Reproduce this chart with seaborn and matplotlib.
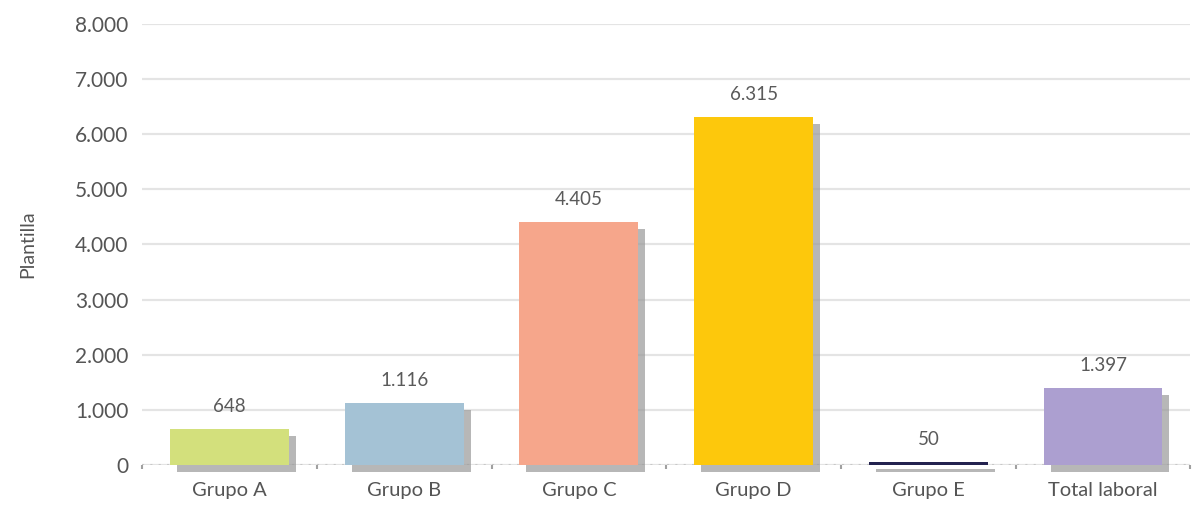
import matplotlib
matplotlib.use("Agg")
import matplotlib.pyplot as plt
import matplotlib.patheffects as pe
from matplotlib.ticker import FuncFormatter, FixedLocator
import seaborn as sns
import pandas as pd

categories = ["Grupo A", "Grupo B", "Grupo C", "Grupo D", "Grupo E", "Total laboral"]
plantilla = [648, 1116, 4405, 6315, 50, 1397]
bar_colors = ["#d3e07c", "#a4c2d5", "#f6a68b", "#fdc80c", "#23224f", "#ac9fd0"]
y_ticks = [0, 1000, 2000, 3000, 4000, 5000, 6000, 7000, 8000]

def fmt_es(v):
    return f"{int(v):,}".replace(",", ".")

sns.set_theme(style="white")
plt.rcParams["font.family"] = ["Lato", "DejaVu Sans"]

df = pd.DataFrame({"grupo": categories, "plantilla": plantilla})

fig = plt.figure(figsize=(11.94, 5.07), dpi=100)
ax = fig.add_axes([0.119, 0.083, 0.878, 0.870])

ax.set_yticks(y_ticks)
ax.yaxis.grid(True, color="#e4e4e4", linewidth=1.6, zorder=0)
ax.set_axisbelow(True)

sns.barplot(data=df, x="grupo", y="plantilla", hue="grupo", palette=bar_colors,
            saturation=1, legend=False, width=0.68, ax=ax, zorder=3)

shadow = [pe.SimplePatchShadow(offset=(5, -5), shadow_rgbFace="#999999", alpha=0.7),
          pe.Normal()]
for patch in ax.patches:
    patch.set_path_effects(shadow)
    patch.set_edgecolor("none")
    patch.set_clip_on(False)

for cont in ax.containers:
    ax.bar_label(cont, labels=[fmt_es(v) for v in cont.datavalues], padding=10,
                 fontsize=13.5, color="#5a5a5a")

ax.set_ylim(0, 8000)
ax.set_xlim(-0.5, len(categories) - 0.5)
ax.yaxis.set_major_formatter(FuncFormatter(lambda v, p: fmt_es(v)))

# dotted baseline with small separators between categories
ax.axhline(0, color="#c8c8c8", linestyle=(0, (1, 3)), linewidth=1.5, zorder=1)
ax.xaxis.set_minor_locator(FixedLocator([i - 0.5 for i in range(len(categories) + 1)]))
ax.tick_params(axis="x", which="minor", bottom=True, length=3, width=1.5, color="#a0a0a0",
               direction="out")
ax.tick_params(axis="x", which="major", bottom=False, labelsize=14.5, labelcolor="#555555", pad=6)
ax.tick_params(axis="y", left=False, labelsize=15, labelcolor="#555555", pad=4)

for s in ax.spines.values():
    s.set_visible(False)

ax.set_xlabel("")
ax.set_ylabel("Plantilla", fontsize=14, color="#555555", labelpad=28)

fig.savefig("out.png", dpi=100, facecolor="white")
